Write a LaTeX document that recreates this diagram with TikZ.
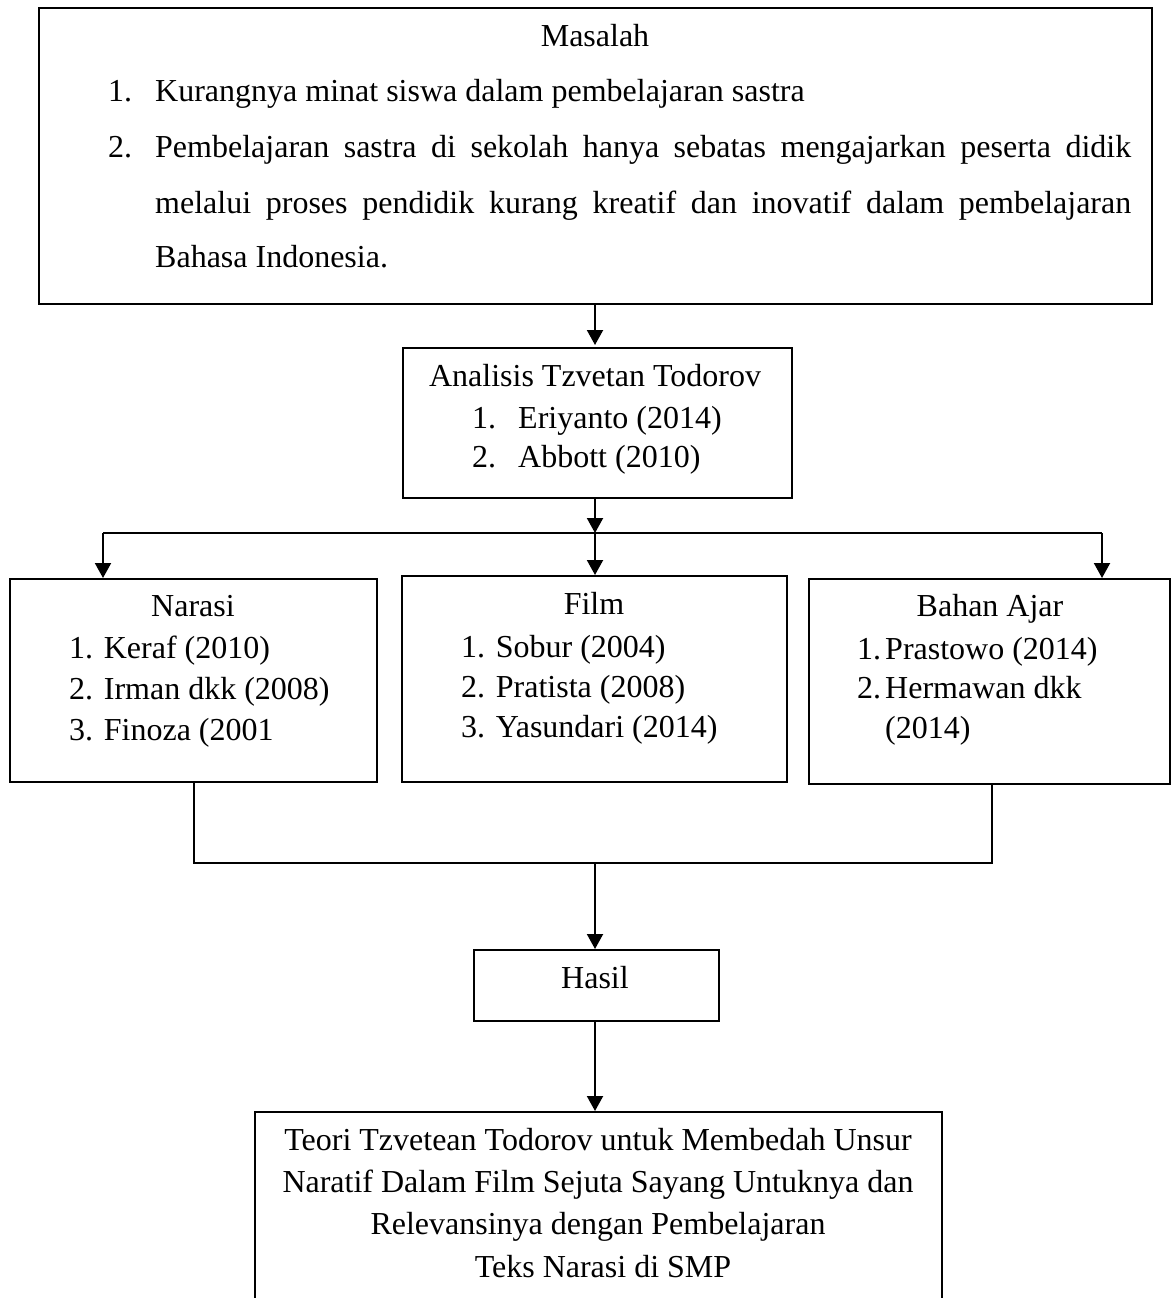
\documentclass[tikz,border=0pt]{standalone}
\usepackage{fontspec}
\setmainfont{Liberation Serif}
\usetikzlibrary{arrows.meta}
\tikzset{
  box/.style={draw, line width=1.6pt, inner sep=0pt, anchor=north west},
  txt/.style={inner sep=0pt, font=\fontsize{32}{38}\selectfont},
  conn/.style={line width=2pt},
  arr/.style={line width=2pt, -{Triangle[width=16pt,length=15pt]}}
}
\begin{document}
\begin{tikzpicture}[x=1pt,y=-1pt]
\clip (0,0) rectangle (1171,1298);
\useasboundingbox (0,0) rectangle (1171,1298);
% boxes
\node[box, minimum width=1113pt, minimum height=296pt] (top) at (38,7) {};
\node[box, minimum width=389pt, minimum height=150pt] (ana) at (402,347) {};
\node[box, minimum width=367pt, minimum height=203pt] (nar) at (9,578) {};
\node[box, minimum width=385pt, minimum height=206pt] (film) at (401,575) {};
\node[box, minimum width=361pt, minimum height=205pt] (bahan) at (808,578) {};
\node[box, minimum width=245pt, minimum height=71pt] (hasil) at (473,949) {};
\node[box, minimum width=687pt, minimum height=230pt] (final) at (254,1111) {};
% top box text
\node[txt, anchor=base] at (595,47) {Masalah};
\node[txt, anchor=base west] at (108,101) {1.};
\node[txt, anchor=base west] at (155,101) {Kurangnya minat siswa dalam pembelajaran sastra};
\node[txt, anchor=base west] at (108,157) {2.};
\node[txt, anchor=base west] at (155,157) {\makebox[976pt][s]{Pembelajaran sastra di sekolah hanya sebatas mengajarkan peserta didik}};
\node[txt, anchor=base west] at (155,213) {\makebox[976pt][s]{melalui proses pendidik kurang kreatif dan inovatif dalam pembelajaran}};
\node[txt, anchor=base west] at (155,267) {Bahasa Indonesia.};
% analisis
\node[txt, anchor=base] at (595,386) {Analisis Tzvetan Todorov};
\node[txt, anchor=base west] at (472,428) {1.};
\node[txt, anchor=base west] at (518,428) {Eriyanto (2014)};
\node[txt, anchor=base west] at (472,467) {2.};
\node[txt, anchor=base west] at (518,467) {Abbott (2010)};
% narasi
\node[txt, anchor=base] at (193,616) {Narasi};
\node[txt, anchor=base west] at (69,658) {1. Keraf (2010)};
\node[txt, anchor=base west] at (69,699) {2. Irman dkk (2008)};
\node[txt, anchor=base west] at (69,740) {3. Finoza (2001};
% film
\node[txt, anchor=base] at (594,614) {Film};
\node[txt, anchor=base west] at (461,657) {1. Sobur (2004)};
\node[txt, anchor=base west] at (461,697) {2. Pratista (2008)};
\node[txt, anchor=base west] at (461,737) {3. Yasundari (2014)};
% bahan ajar
\node[txt, anchor=base] at (990,616) {Bahan Ajar};
\node[txt, anchor=base west] at (857,659) {1.};
\node[txt, anchor=base west] at (885,659) {Prastowo (2014)};
\node[txt, anchor=base west] at (857,698) {2.};
\node[txt, anchor=base west] at (885,698) {Hermawan dkk};
\node[txt, anchor=base west] at (885,738) {(2014)};
% hasil
\node[txt, anchor=base] at (595,988) {Hasil};
% final
\node[txt, anchor=base] at (598,1150) {Teori Tzvetean Todorov untuk Membedah Unsur};
\node[txt, anchor=base] at (598,1192) {Naratif Dalam Film Sejuta Sayang Untuknya dan};
\node[txt, anchor=base] at (598,1234) {Relevansinya dengan Pembelajaran};
\node[txt, anchor=base] at (603,1277) {Teks Narasi di SMP};
% connectors
\coordinate (split) at (595,533);
\coordinate (sl) at (103,533);
\coordinate (sr) at (1102,533);
\coordinate (jl) at (194,863);
\coordinate (jr) at (992,863);
\coordinate (jm) at (595,863);
\draw[arr] (595,303) -- (595,345);
\draw[arr] (ana.south -| split) -- (split);
\draw[conn] (sl) -- (sr);
\draw[arr] (split) -- (split |- film.north);
\draw[arr] (sl) -- (sl |- nar.north);
\draw[arr] (sr) -- (sr |- bahan.north);
\draw[conn] (jl |- nar.south) -- (jl) -- (jr) -- (jr |- bahan.south);
\draw[arr] (jm) -- (jm |- hasil.north);
\draw[arr] (hasil.south -| jm) -- (jm |- final.north);
\end{tikzpicture}
\end{document}
